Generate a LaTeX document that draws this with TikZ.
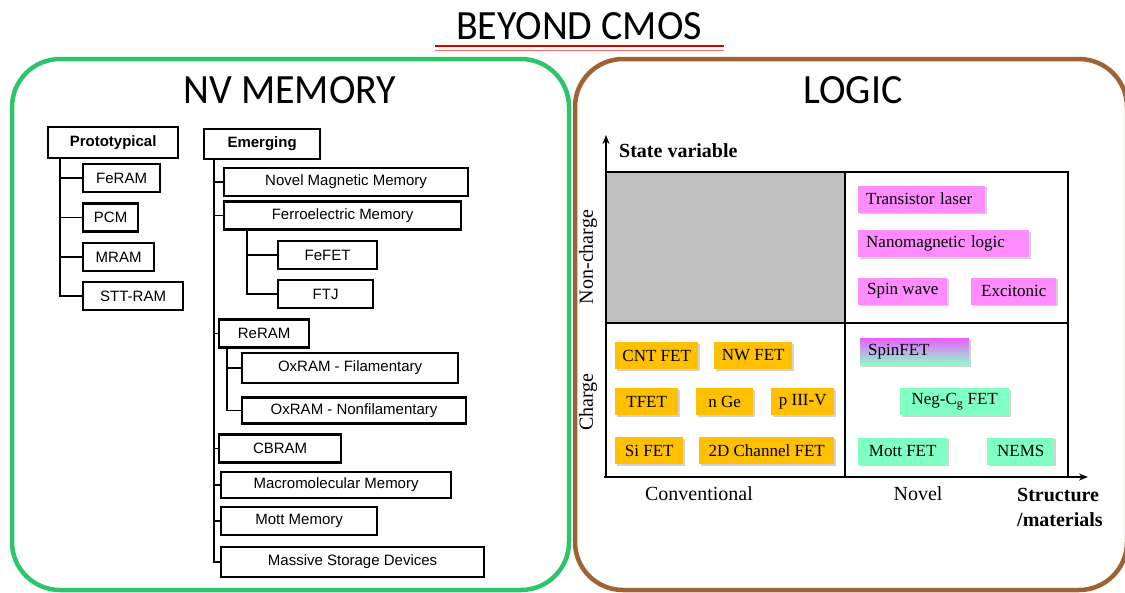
\documentclass[tikz,border=0pt]{standalone}
\usepackage{fontspec}
\setmainfont{Liberation Serif}
\newfontfamily\arialfont{Liberation Sans}
\newfontfamily\calibrifont{Carlito}
\usetikzlibrary{positioning,calc,arrows.meta,shadows}
\definecolor{memgreen}{RGB}{46,196,108}
\definecolor{logicbrown}{RGB}{160,98,50}
\definecolor{chipgold}{RGB}{255,192,0}
\definecolor{chippink}{RGB}{255,140,255}
\definecolor{chipmint}{RGB}{128,255,196}
\definecolor{cellgrey}{RGB}{192,192,192}

\begin{document}
\begin{tikzpicture}[x=1pt,y=-1pt]
\tikzset{panel/.style={line width=4.5pt,rounded corners=48pt},
  title/.style={font=\calibrifont\fontsize{40}{40}\selectfont,inner sep=0pt,yscale=1.04,transform shape},
  mem/.style={draw,line width=2.2pt,font=\arialfont\fontsize{15}{15}\selectfont,minimum height=28pt,inner sep=0pt,anchor=west},
  tree/.style={line width=1.7pt},
  chip/.style={font=\fontsize{17}{17}\selectfont,minimum height=27pt,inner sep=0pt,anchor=west,
    drop shadow={shadow xshift=1.5pt,shadow yshift=-1.5pt,opacity=0.35}},
  gold/.style={chip,fill=chipgold}, pink/.style={chip,fill=chippink}, mint/.style={chip,fill=chipmint},
  axlab/.style={font=\fontsize{20}{25}\selectfont,inner sep=0pt},
  axis/.style={line width=1.6pt,-{Stealth[length=9pt,width=7pt]}}}
\useasboundingbox (0,0) rectangle (1125,592);

% heading
\node[title] (beyond) at (579,26.5) {BEYOND CMOS};
\draw[red!85!black,line width=2pt] (435,46) -- (724,46);
\draw[red!60,line width=1pt] (435,50) -- (724,50);

% the two panels
\draw[panel,memgreen] (12,59) rectangle (569,590);
\draw[panel,logicbrown] (575,59) rectangle (1127,590);
\node[title] (nvmem) at (290,90) {NV MEMORY};
\node[title] (logic) at (853,90) {LOGIC};

% NV memory tree
\node[mem,minimum width=130pt,minimum height=31pt,font=\arialfont\bfseries\fontsize{15}{15}\selectfont] at (47,142.5) (proto) {Prototypical};
\node[mem,minimum width=77pt] at (82,178) (feram) {FeRAM};
\node[mem,minimum width=55pt] at (82,217.5) (pcm) {PCM};
\node[mem,minimum width=71pt] at (82,257) (mram) {MRAM};
\node[mem,minimum width=100pt] at (82,296) (sttram) {STT-RAM};

\node[mem,minimum width=116pt,minimum height=30pt,font=\arialfont\bfseries\fontsize{15}{15}\selectfont] at (203,144) (emerg) {Emerging};
\node[mem,minimum width=244pt] at (223,182) (novmag) {Novel Magnetic Memory};
\node[mem,minimum width=237pt] at (223,215.5) (ferro) {Ferroelectric Memory};
\node[mem,minimum width=99pt] at (277,255) (fefet) {FeFET};
\node[mem,minimum width=95pt] at (277,294) (ftj) {FTJ};
\node[mem,minimum width=90pt] at (218,333.5) (reram) {ReRAM};
\node[mem,minimum width=216pt,minimum height=30pt] at (241,368) (oxfil) {OxRAM - Filamentary};
\node[mem,minimum width=224pt,minimum height=26pt] at (241,410.5) (oxnon) {OxRAM - Nonfilamentary};
\node[mem,minimum width=122pt] at (218,448.5) (cbram) {CBRAM};
\node[mem,minimum width=230pt,minimum height=26pt] at (220,485) (macro) {Macromolecular Memory};
\node[mem,minimum width=156pt] at (220,521) (mott) {Mott Memory};
\node[mem,minimum width=263pt,minimum height=30pt] at (220,562) (massive) {Massive Storage Devices};

\foreach \c in {feram,pcm,mram,sttram}
  \draw[tree] ([xshift=13pt]proto.south west) |- (\c.west);
\foreach \c in {novmag,ferro,reram,cbram,macro,mott,massive}
  \draw[tree] ([xshift=11pt]emerg.south west) |- (\c.west);
\foreach \c in {fefet,ftj}
  \draw[tree] ([xshift=24pt]ferro.south west) |- (\c.west);
\foreach \c in {oxfil,oxnon}
  \draw[tree] ([xshift=9pt]reram.south west) |- (\c.west);

% logic chart
\coordinate (o) at (606,477);
\coordinate (ytip) at (606,135);
\coordinate (xtip) at (1088,477);
\fill[cellgrey] (606,172) rectangle (845,323);
\draw[line width=1.6pt] (606,172) rectangle (1068,477);
\draw[line width=1.6pt] (845,172) -- (845,477);
\draw[line width=1.6pt] (606,323) -- (1068,323);
\draw[axis] (o) -- (ytip);
\draw[axis] ([xshift=-2pt]o) -- (xtip);

\node[axlab,font=\bfseries\fontsize{20}{25}\selectfont,anchor=west] at (619,151) (statevar) {State variable};
\node[axlab] at (699,494) (conv) {Conventional};
\node[axlab] at (918,494) (novel) {Novel};
\node[axlab,font=\bfseries\fontsize{20}{25}\selectfont,align=left,anchor=north west] at (1017,488) (struct) {Structure\\/materials};
\node[axlab,rotate=90] at (588,257) (noncharge) {Non-charge};
\node[axlab,rotate=90] at (588,402) (charge) {Charge};

\node[pink,text width=111pt,inner xsep=8pt,align=left] at (858,199) (tlaser) {Transistor laser};
\node[pink,text width=155pt,inner xsep=8pt,align=left] at (858,243.5) (nanomag) {Nanomagnetic logic};
\node[pink,minimum width=89pt] at (858,291) (spinwave) {Spin wave};
\node[pink,minimum width=85pt] at (971,291) (excit) {Excitonic};

\node[gold,minimum width=83pt] at (615,355.5) (cnt) {CNT FET};
\node[gold,minimum width=78pt] at (714,355.5) (nw) {NW FET};
\node[gold,minimum width=63pt] at (615,401.5) (tfet) {TFET};
\node[gold,minimum width=57pt] at (696,401.5) (nge) {n Ge};
\node[gold,minimum width=63pt] at (771,401.5) (p3v) {p III-V};
\node[gold,minimum width=68pt] at (615,450.5) (sifet) {Si FET};
\node[gold,minimum width=135pt] at (699,450.5) (twod) {2D Channel FET};

\node[chip,text width=93pt,inner xsep=8pt,align=left,
  top color={rgb,255:red,235;green,95;blue,255},middle color={rgb,255:red,130;green,160;blue,255},
  bottom color={rgb,255:red,140;green,255;blue,200}] at (860,351.5) (spinfet) {SpinFET};
\node[mint,minimum width=109pt] at (900,401.5) (negc) {Neg-C\textsubscript{g} FET};
\node[mint,minimum width=89pt] at (858,451) (mottfet) {Mott FET};
\node[mint,minimum width=67pt] at (987,451) (nems) {NEMS};
\end{tikzpicture}
\end{document}
